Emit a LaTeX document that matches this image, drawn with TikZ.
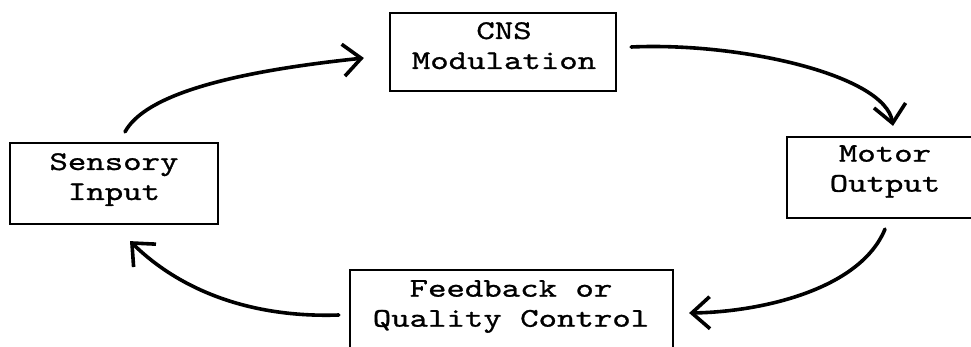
\documentclass[tikz,border=0pt]{standalone}
\usepackage{fontspec}
\newfontfamily\typewriter{lmmono10-regular.otf}[FakeStretch=1.3,FakeBold=1]
\usetikzlibrary{arrows.meta}
\begin{document}
\begin{tikzpicture}[x=1pt,y=-1pt,
  stagebox/.style={draw, line width=2.2pt, inner sep=0pt},
  stagetext/.style={inner sep=0pt, anchor=north, align=center,
    font=\typewriter\fontsize{27}{30}\selectfont},
  flow/.style={line width=3.6pt, line cap=round,
    -{Straight Barb[length=18pt,width=32pt,line width=3.6pt]}}]
\useasboundingbox (0,0) rectangle (971,346);

% the four stages of the loop: frames, then their captions
\node[stagebox, minimum width=226pt, minimum height=78pt] (cns) at (503,52) {};
\node[stagebox, minimum width=208pt, minimum height=81pt] (sens) at (114,183.5) {};
\node[stagebox, minimum width=196pt, minimum height=81pt] (motor) at (885,177.5) {};
\node[stagebox, minimum width=323pt, minimum height=82pt] (feed) at (511.5,311) {};

\node[stagetext] (cnstext) at (504,22) {CNS\\Modulation};
\node[stagetext] (senstext) at (114,153) {Sensory\\Input};
\node[stagetext] (motortext) at (885,145) {Motor\\Output};
\node[stagetext] (feedtext) at (511,280) {Feedback or\\Quality Control};

% curved arrows running clockwise round the loop
\draw[flow] ([shift={(11,-10)}]sens.north) .. controls (145,95) and (230,72) .. ([shift={(-25,6)}]cns.west);
\draw[flow] ([shift={(14,-5)}]cns.east) .. controls (740,42) and (885,75) .. ([shift={(8,-10)}]motor.north);
\draw[flow] ([shift={(0,10)}]motor.south) .. controls (860,290) and (760,312) .. ([shift={(15,2)}]feed.east);
\draw[flow] ([shift={(-10,4)}]feed.west) .. controls (250,318) and (180,290) .. ([shift={(16,16)}]sens.south);
\end{tikzpicture}
\end{document}
